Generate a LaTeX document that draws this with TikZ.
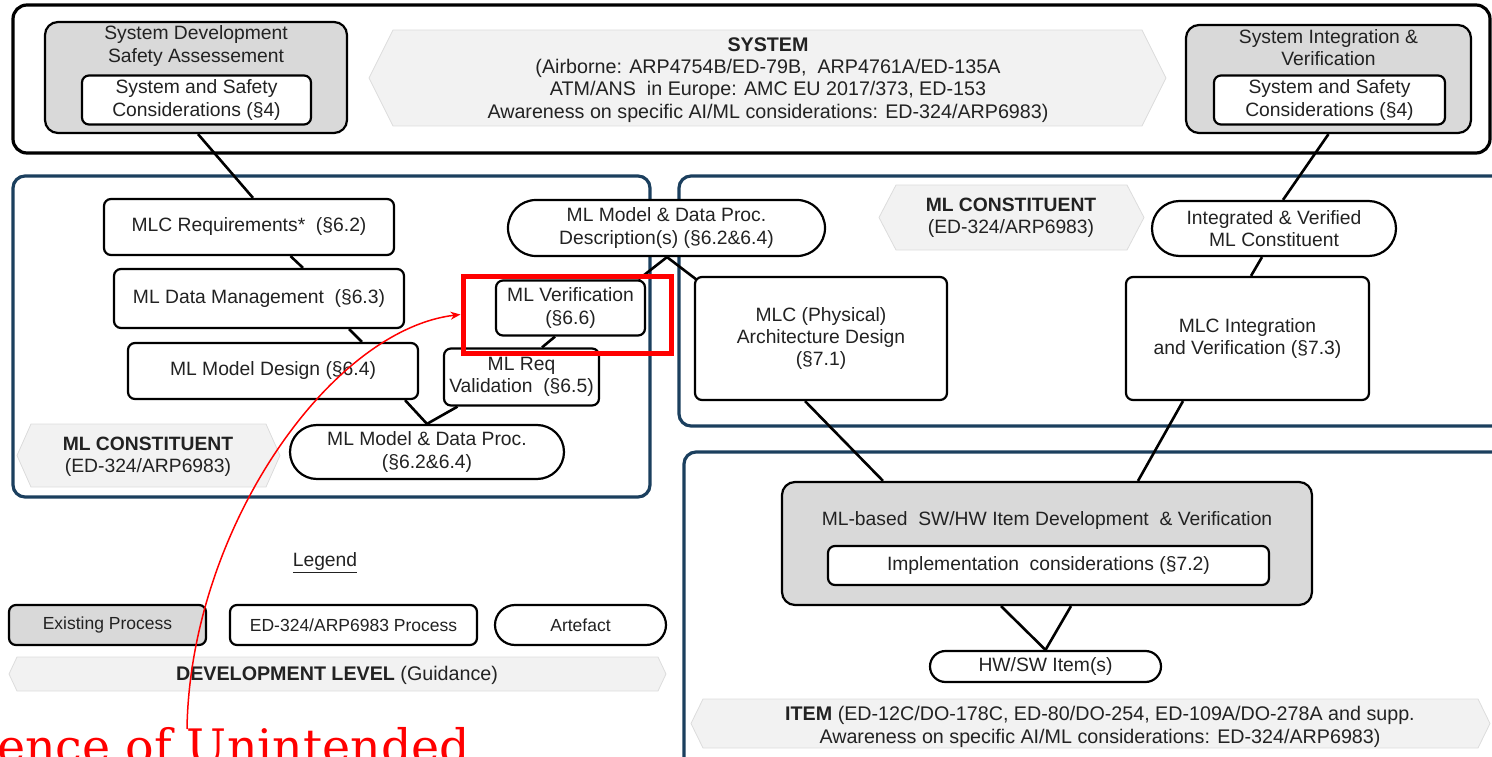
\documentclass[tikz,border=0pt]{standalone}
\usepackage{fontspec}
\setmainfont{Liberation Sans}
\newfontfamily\redserif{DejaVu Serif}
\usetikzlibrary{shapes.misc,arrows.meta,calc}

\definecolor{ink}{HTML}{222222}
\definecolor{navy}{HTML}{1B3F5E}
\definecolor{procgray}{HTML}{D9D9D9}
\definecolor{bannerfill}{HTML}{F2F2F2}
\definecolor{banneredge}{HTML}{DCDCDC}

\tikzset{
  base/.style={font=\fontsize{19.3}{22.4}\selectfont, text=ink, align=center, inner sep=0pt},
  wide/.style={base, font=\fontsize{19.7}{22.2}\selectfont},
  small/.style={base, font=\fontsize{17.5}{21}\selectfont},
  existing/.style={base, draw=black, fill=procgray, line width=2.2pt, rounded corners=13pt},
  proc/.style={base, draw=black, fill=white, line width=2.2pt, rounded corners=7pt},
  artefact/.style={base, draw=black, fill=white, line width=2.2pt, rounded rectangle},
  link/.style={line width=2.6pt, black},
  sysframe/.style={draw=black, line width=3.2pt, rounded corners=14pt},
  mlframe/.style={draw=navy, line width=3.2pt, rounded corners=12pt},
  banner/.style={fill=bannerfill, draw=banneredge, line width=0.8pt},
  highlight/.style={draw=red, line width=5pt, inner sep=0pt},
}

% banner polygon: x-left, x-right, y-top, y-bottom, tip depth
\newcommand\bannerpoly[5]{%
  \path[banner] (#1,{(#3+#4)/2}) -- (#1+#5,#3) -- (#2-#5,#3) -- (#2,{(#3+#4)/2})
    -- (#2-#5,#4) -- (#1+#5,#4) -- cycle;}

\begin{document}
\begin{tikzpicture}[x=1pt,y=-1pt]
\useasboundingbox (0,0) rectangle (1492,757);
\clip (0,0) rectangle (1492,757);

% ---------- level frames ----------
\draw[sysframe] (13,5) rectangle (1490,153);
\draw[mlframe] (13,176) rectangle (650,497);
\draw[mlframe] (679,176) rectangle (1530,426);
\draw[mlframe] (684,452) rectangle (1530,790);

% ---------- banners ----------
\bannerpoly{369}{1166}{30}{126}{24}
\node[wide] (systxt) at (768,80)
  {\textbf{SYSTEM}\\(Airborne: ARP4754B/ED-79B,\ \ ARP4761A/ED-135A\\ATM/ANS\ \ in Europe: AMC EU 2017/373, ED-153\\Awareness on specific AI/ML considerations: ED-324/ARP6983)};

\bannerpoly{17}{280}{424}{487}{14}
\node[base] (mlcleft) at (148,457) {\textbf{ML CONSTITUENT}\\(ED-324/ARP6983)};

\bannerpoly{879}{1144}{185}{250}{17}
\node[base] (mlcright) at (1011,218) {\textbf{ML CONSTITUENT}\\(ED-324/ARP6983)};

\bannerpoly{9}{666}{657}{691}{8}
\node[wide] (devtxt) at (337,675) {\textbf{DEVELOPMENT LEVEL} (Guidance)};

\bannerpoly{691}{1490}{699}{748}{12}
\node[wide] (itemtxt) at (1100,727)
  {\textbf{ITEM} (ED-12C/DO-178C, ED-80/DO-254, ED-109A/DO-278A and supp.\\Awareness on specific AI/ML considerations: ED-324/ARP6983)};

% ---------- system level ----------
\node[existing, minimum width=302pt, minimum height=111pt] (sdsa) at (196,77.5) {};
\node[base] (sdsatitle) at (196,46) {System Development\\Safety Assessement};
\node[proc, minimum width=229pt, minimum height=49pt] (sdsacons) at (196.5,100)
  {System and Safety\\Considerations (§4)};

\node[existing, minimum width=285pt, minimum height=108pt] (siv) at (1328.5,79) {};
\node[base] (sivtitle) at (1328.5,47.5) {System Integration \&\\Verification};
\node[proc, minimum width=231pt, minimum height=49pt] (sivcons) at (1329.5,100)
  {System and Safety\\Considerations (§4)};

% ---------- ML constituent, design side ----------
\node[proc, minimum width=290pt, minimum height=56pt] (mlcreq) at (249,227) {MLC Requirements*~ (§6.2)};
\node[proc, minimum width=290pt, minimum height=59pt] (datamgmt) at (259,298.5) {ML Data Management~ (§6.3)};
\node[proc, minimum width=290pt, minimum height=56pt] (modeldesign) at (273,371) {ML Model Design (§6.4)};
\node[proc, minimum width=155pt, minimum height=57pt] (reqval) at (521.5,377) {ML Req\\Validation~ (§6.5)};
\node[proc, minimum width=149pt, minimum height=55pt] (mlverif) at (570.5,308) {ML Verification\\(§6.6)};
\node[artefact, minimum width=274pt, minimum height=54pt] (mdproc) at (427,452) {ML Model \& Data Proc.\\(§6.2\&6.4)};
\node[artefact, minimum width=317pt, minimum height=56pt] (desc) at (666.5,228) {ML Model \& Data Proc.\\Description(s) (§6.2\&6.4)};

% ---------- ML constituent, implementation side ----------
\node[proc, minimum width=252pt, minimum height=123pt] (mlcphys) at (821,338.5) {MLC (Physical)\\Architecture Design\\(§7.1)};
\node[artefact, minimum width=244pt, minimum height=55pt] (integ) at (1274,228.5) {Integrated \& Verified\\ML Constituent};
\node[proc, minimum width=243pt, minimum height=123pt] (mlcint) at (1247.5,338.5) {MLC Integration\\and Verification (§7.3)};

% ---------- item level ----------
\node[existing, minimum width=530pt, minimum height=123pt] (mlbased) at (1047,543.5) {};
\node[base] (mlbasedtitle) at (1047,521) {ML-based\ \ SW/HW Item Development\ \ \& Verification};
\node[proc, minimum width=441pt, minimum height=39pt] (impl) at (1048.5,565.5) {Implementation\ \ considerations (§7.2)};
\node[artefact, minimum width=231pt, minimum height=31pt] (hwsw) at (1045.5,666.5) {HW/SW Item(s)};

% ---------- legend ----------
\node[base] (legend) at (325,563) {\underline{Legend}};
\node[existing, small, rounded corners=7pt, minimum width=197pt, minimum height=40pt] (legexist) at (107.5,625) {Existing Process};
\node[proc, small, minimum width=247pt, minimum height=40pt] (legproc) at (353.5,625) {ED-324/ARP6983 Process};
\node[artefact, small, minimum width=171pt, minimum height=40pt] (legart) at (580.5,625) {Artefact};

% ---------- connectors ----------
\draw[link] ([xshift=2pt]sdsa.south) -- ([xshift=4pt]mlcreq.north);
\draw[link] ([xshift=41.5pt]mlcreq.south) -- ([xshift=44pt]datamgmt.north);
\draw[link] ([xshift=90pt]datamgmt.south) -- ([xshift=89pt]modeldesign.north);
\draw[link] ([xshift=132pt]modeldesign.south) -- (mdproc.north);
\draw[link] ([xshift=-64pt]reqval.south) -- (mdproc.north);
\draw[link] ([xshift=20.5pt]reqval.north) -- ([xshift=-15.5pt]mlverif.south);
\draw[link] ([xshift=0.5pt]desc.south) -- ([xshift=68pt]mlverif.north);
\draw[link] ([xshift=0.5pt]desc.south) -- ([shift={(3pt,-4pt)}]mlcphys.north west);
\draw[link] (siv.south) -- ([xshift=9pt]integ.north);
\draw[link] ([xshift=-12pt]integ.south) -- ([xshift=3.5pt]mlcint.north);
\draw[link] ([xshift=-16pt]mlcphys.south) -- ([xshift=-164pt]mlbased.north);
\draw[link] ([xshift=-64.5pt]mlcint.south) -- ([xshift=91pt]mlbased.north);
\draw[link] ([xshift=-46pt]mlbased.south) -- (hwsw.north);
\draw[link] ([xshift=24pt]mlbased.south) -- (hwsw.north);

% ---------- red annotation ----------
\node[highlight, minimum width=208pt, minimum height=77pt] (redbox) at (567,314.5) {};
\node[anchor=base west, inner sep=0pt, text=red, font=\redserif\fontsize{47.5}{52}\selectfont] (redtxt) at (-3,763) {ence of Unintended};
\coordinate (redstart) at (187,729);
\draw[red, line width=1.5pt, -{Stealth[length=10pt,width=8pt]}]
  (redstart) .. controls (190,530) and (330,330) .. (redbox.west);
\end{tikzpicture}
\end{document}
